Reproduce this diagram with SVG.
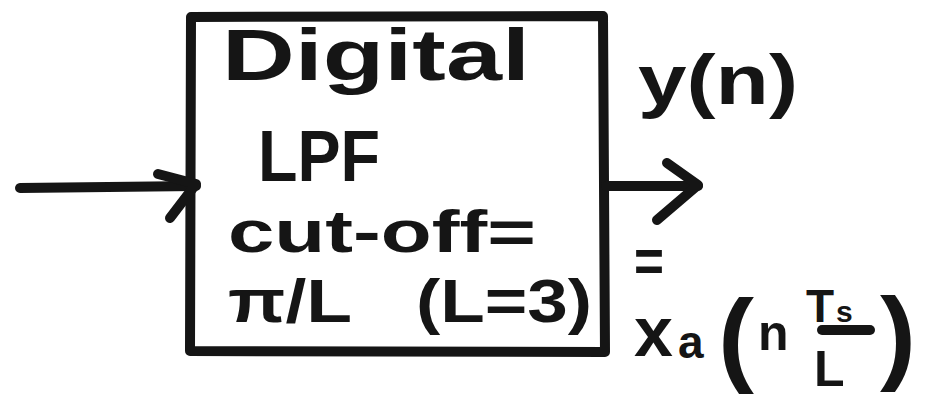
<svg xmlns="http://www.w3.org/2000/svg" width="942" height="401" viewBox="0 0 942 401">
  <style>
    .ink { stroke: #151515; stroke-width: 10; fill: none; stroke-linecap: round; stroke-linejoin: round; }
    .t { font-family: "Liberation Sans", "DejaVu Sans", sans-serif; font-weight: bold; fill: #151515; }
  </style>
  <rect width="942" height="401" fill="#ffffff"/>

  <!-- filter block -->
  <g id="lpf">
    <path class="ink" d="M191 17 L603 16 L605 352 L190 351 Z" stroke-width="11"/>
    <text class="t" x="222" y="80" font-size="72" textLength="308" lengthAdjust="spacingAndGlyphs">Digital</text>
    <text class="t" x="258" y="181" font-size="72" textLength="122" lengthAdjust="spacingAndGlyphs">LPF</text>
    <text class="t" x="228" y="252" font-size="60" textLength="308" lengthAdjust="spacingAndGlyphs">cut-off=</text>
    <text class="t" x="228" y="322" font-size="62" textLength="124" lengthAdjust="spacingAndGlyphs">π/L</text>
    <text class="t" x="416" y="322" font-size="62" textLength="176" lengthAdjust="spacingAndGlyphs">(L=3)</text>
  </g>

  <!-- output label -->
  <g id="output-label">
    <text class="t" x="638" y="104" font-size="70" textLength="160" lengthAdjust="spacingAndGlyphs">y(n)</text>
    <text class="t" x="634" y="282" font-size="62" textLength="30" lengthAdjust="spacingAndGlyphs">=</text>
    <text class="t" x="634" y="356" font-size="70">x</text>
    <text class="t" x="678" y="358" font-size="46">a</text>
    <text class="t" x="718" y="372" font-size="104" textLength="36" lengthAdjust="spacingAndGlyphs">(</text>
    <text class="t" x="758" y="350" font-size="50">n</text>
    <text class="t" x="806" y="322" font-size="46">T</text>
    <text class="t" x="836" y="322" font-size="30">s</text>
    <line class="ink" x1="822" y1="330" x2="870" y2="330" stroke-width="9"/>
    <text class="t" x="814" y="386" font-size="50">L</text>
    <text class="t" x="880" y="370" font-size="104" textLength="36" lengthAdjust="spacingAndGlyphs">)</text>
  </g>

  <!-- connectors -->
  <g id="connectors">
    <path class="ink" d="M20 188 L196 186"/>
    <path class="ink" d="M158 174 L196 184 L170 218"/>
    <path class="ink" d="M606 186 L698 186"/>
    <path class="ink" d="M667 163 L698 185 L657 220"/>
  </g>
</svg>
